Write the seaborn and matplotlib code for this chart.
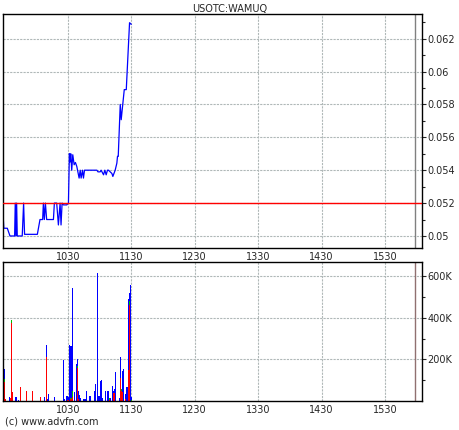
import numpy as np
import pandas as pd
import seaborn as sns
import matplotlib.pyplot as plt
from matplotlib.ticker import MultipleLocator, FixedLocator, FuncFormatter

sns.set_style('white')
plt.rcParams['font.family'] = ['DejaVu Sans']

# trade time in minutes since midnight, last price in USD
price_time = [569.0, 569.5, 572.8, 575.3, 579.7, 580.3, 581.0, 581.6, 582.2, 586.9,
              588.2, 589.1, 601.2, 603.7, 606.2, 606.9, 607.8, 608.8, 610.0, 611.6,
              616.4, 617.3, 619.5, 621.1, 622.7, 623.6, 624.6, 625.8, 629.0, 630.6,
              631.5, 632.2, 632.8, 633.7, 634.7, 636.0, 637.2, 638.5, 640.7, 641.7,
              642.6, 643.9, 644.8, 645.8, 657.5, 658.5, 660.6, 661.5, 663.8, 665.0,
              666.3, 667.5, 668.5, 671.7, 672.6, 674.8, 676.4, 677.0, 677.7, 679.6,
              680.5, 683.4, 685.3, 688.4, 690.0]
price = [0.05104, 0.05047, 0.05047, 0.0500, 0.0500, 0.0520, 0.0500, 0.0520, 0.0500, 0.0500,
         0.0520, 0.0501, 0.0501, 0.0510, 0.0510, 0.0520, 0.0510, 0.0520, 0.0510, 0.0510,
         0.0510, 0.0520, 0.0520, 0.05067, 0.0520, 0.05067, 0.0520, 0.05189, 0.05189, 0.0520,
         0.0550, 0.0545, 0.0550, 0.0540, 0.05494, 0.05433, 0.05447, 0.05423, 0.05352, 0.0540,
         0.05352, 0.0540, 0.05352, 0.0540, 0.0540, 0.0539, 0.0539, 0.0540, 0.05372, 0.0540,
         0.05372, 0.0540, 0.0540, 0.0538, 0.05362, 0.0540, 0.05443, 0.05484, 0.05484, 0.0580,
         0.05707, 0.0589, 0.0589, 0.06297, 0.06287]
prev_close = 0.052
market_close = 958

# volume per minute, thousands of shares
vol_time = [570, 571, 575, 576, 577, 578, 581, 583, 585, 591, 597, 604, 608, 610, 611,
            612, 617, 626, 627, 629, 630, 631, 632, 633, 634, 636, 638, 639, 640, 641,
            642, 645, 646, 647, 648, 651, 655, 656, 658, 659, 660, 661, 662, 663, 666,
            668, 669, 670, 672, 673, 674, 675, 679, 680, 681, 682, 683, 685, 686, 687,
            688, 689, 690]
vol_down = [90, 11, 0, 16, 374, 45, 0, 0, 69, 50, 50, 18, 0, 214, 0,
            0, 0, 0, 0, 0, 5, 5, 0, 8, 20, 0, 0, 160, 8, 0,
            0, 0, 0, 0, 0, 0, 0, 0, 0, 0, 0, 0, 0, 0, 0,
            0, 5, 0, 0, 40, 40, 0, 0, 109, 50, 45, 0, 8, 0, 147,
            460, 0, 0]
vol_flat = [15, 0, 0, 0, 18, 0, 0, 0, 0, 0, 0, 0, 0, 0, 0,
            0, 0, 0, 0, 0, 0, 0, 0, 8, 30, 0, 0, 10, 0, 0,
            0, 0, 0, 0, 0, 0, 0, 0, 0, 0, 0, 0, 0, 0, 0,
            0, 10, 0, 0, 0, 0, 0, 0, 0, 8, 0, 0, 0, 0, 0,
            20, 0, 5]
vol_up = [50, 0, 19, 0, 0, 0, 19, 5, 0, 0, 0, 0, 18, 54, 11,
          35, 18, 198, 11, 26, 20, 15, 268, 247, 494, 45, 180, 30, 39, 30,
          15, 12, 12, 12, 47, 23, 50, 80, 615, 23, 23, 97, 100, 15, 50,
          50, 0, 15, 73, 10, 17, 140, 15, 105, 0, 100, 153, 25, 68, 343,
          40, 560, 15]

hour_ticks = [630, 690, 750, 810, 870, 930]

vol = pd.DataFrame({'minute': vol_time, 'down': vol_down, 'flat': vol_flat, 'up': vol_up})
# stacked layers drawn as cumulative heights: blue total, then green, then red on top
vol['top_up'] = vol['down'] + vol['flat'] + vol['up']
vol['top_flat'] = vol['down'] + vol['flat']
vol['top_down'] = vol['down']

fig = plt.figure(figsize=(4.6, 4.3), dpi=100)
ax1 = fig.add_axes([0.0065, 0.4233, 0.9109, 0.5442])
ax2 = fig.add_axes([0.0065, 0.0674, 0.9109, 0.3226])

grid_kw = dict(color='#b0b8b8', lw=0.8, ls=(0, (2, 1)))

sns.lineplot(x=price_time, y=price, color='#0000ff', lw=0.9, estimator=None, sort=False, ax=ax1)
ax1.axhline(prev_close, color='#ff0000', lw=1, zorder=3)
ax1.axvline(market_close, color='#808080', lw=1)
ax1.set_xlim(568.7, 965)
ax1.set_ylim(0.04927, 0.0635)
ax1.yaxis.set_major_locator(MultipleLocator(0.002))
ax1.yaxis.set_minor_locator(MultipleLocator(0.001))
ax1.yaxis.set_major_formatter(FuncFormatter(lambda v, p: f'{v:g}'))

for col, c in [('top_up', '#0000ff'), ('top_flat', '#00c000'), ('top_down', '#ff0000')]:
    sns.histplot(data=vol, x='minute', weights=col, discrete=True, color=c,
                 alpha=1, linewidth=0, antialiased=False, ax=ax2)
ax2.axvline(market_close, color='#907070', lw=1)
ax2.set_xlim(568.7, 965)
ax2.set_ylim(0, 668)
ax2.yaxis.set_major_locator(FixedLocator([200, 400, 600]))
ax2.yaxis.set_minor_locator(FixedLocator([100, 300, 500]))
ax2.yaxis.set_major_formatter(FuncFormatter(lambda v, p: f'{v:.0f}K'))

for ax in (ax1, ax2):
    ax.set_xlabel(None)
    ax.set_ylabel(None)
    ax.xaxis.set_major_locator(FixedLocator(hour_ticks))
    ax.xaxis.set_major_formatter(FuncFormatter(lambda m, p: f'{int(m) // 60}{int(m) % 60:02d}'))
    ax.grid(True, which='major', **grid_kw)
    ax.set_axisbelow(True)
    ax.yaxis.tick_right()
    ax.tick_params(axis='y', which='major', direction='out', length=3, width=0.8, pad=1, labelsize=7)
    ax.tick_params(axis='y', which='minor', direction='out', length=2, width=0.8, right=True)
    ax.tick_params(axis='x', length=0, pad=3, labelsize=7)
    for s in ax.spines.values():
        s.set_color('black')
        s.set_linewidth(1)

fig.text(0.5, 1 - 9 / 430, 'USOTC:WAMUQ', ha='center', va='center', fontsize=7)
fig.text(0.01, 1 - 422 / 430, '(c) www.advfn.com', ha='left', va='center', fontsize=7)

fig.savefig('out.png', dpi=100)
